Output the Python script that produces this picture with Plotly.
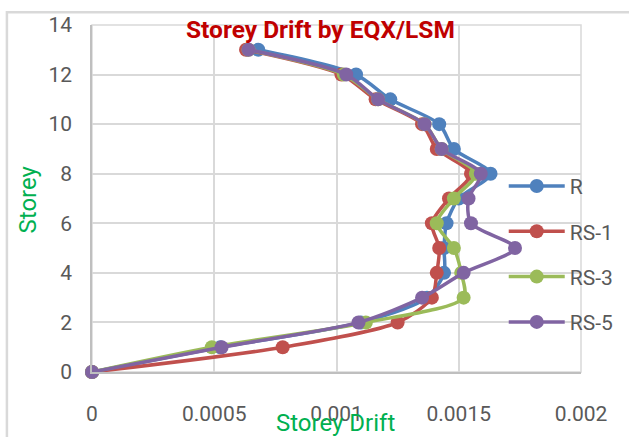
import plotly.graph_objects as go

storeys = [0, 1, 2, 3, 4, 5, 6, 7, 8, 9, 10, 11, 12, 13]
drift_R = [0, 0.000525, 0.00110, 0.00137, 0.00144, 0.00144, 0.00145, 0.00150, 0.00163, 0.00148, 0.00142, 0.00122, 0.00108, 0.00068]
drift_RS1 = [0, 0.00078, 0.00125, 0.00139, 0.00141, 0.00142, 0.00139, 0.00146, 0.00155, 0.00141, 0.00135, 0.00116, 0.00102, 0.00063]
drift_RS3 = [0, 0.00049, 0.00112, 0.00152, 0.00151, 0.00148, 0.00141, 0.00148, 0.00157, 0.00143, 0.00136, 0.00117, 0.00103, 0.00064]
drift_RS5 = [0, 0.00053, 0.00109, 0.00135, 0.00152, 0.00173, 0.00155, 0.00154, 0.00159, 0.00143, 0.00136, 0.00117, 0.00104, 0.00064]

series_names = ["R", "RS-1", "RS-3", "RS-5"]
series_colors = ["#4F81BD", "#C0504D", "#9BBB59", "#8064A2"]
x_tick_vals = [0, 0.0005, 0.001, 0.0015, 0.002]
x_tick_text = ["0", "0.0005", "0.001", "0.0015", "0.002"]
y_tick_vals = [0, 2, 4, 6, 8, 10, 12, 14]

FONT = "Roboto, 'Liberation Sans', sans-serif"

fig = go.Figure()
for name, color, vals in zip(series_names, series_colors, [drift_R, drift_RS1, drift_RS3, drift_RS5]):
    fig.add_trace(go.Scatter(
        x=vals, y=storeys, name=name, mode="lines+markers",
        line=dict(color=color, width=3.5, shape="spline", smoothing=0.8),
        marker=dict(color=color, size=14),
        legendgroup=name, cliponaxis=False,
    ))

fig.update_layout(
    width=629, height=437,
    margin=dict(l=92, r=48, t=25, b=65, autoexpand=False),
    paper_bgcolor="white", plot_bgcolor="white",
    font=dict(family=FONT, color="#595959", size=21),
    showlegend=True,
    legend=dict(x=0.842, y=0.339, xanchor="left", yanchor="middle",
                bgcolor="rgba(0,0,0,0)", font=dict(size=21, color="#595959"),
                tracegroupgap=15, itemwidth=56, traceorder="grouped"),
    xaxis=dict(range=[0, 0.002], tickvals=x_tick_vals, ticktext=x_tick_text,
               showgrid=True, gridcolor="#D9D9D9", gridwidth=1.5,
               showline=True, linecolor="#BFBFBF", linewidth=1.5, mirror=False,
               zeroline=False, ticks="", ticklabelstandoff=22, automargin=False,
               tickfont=dict(size=21, color="#595959")),
    yaxis=dict(range=[0, 14], tickvals=y_tick_vals,
               showgrid=True, gridcolor="#D9D9D9", gridwidth=1.5,
               showline=True, linecolor="#BFBFBF", linewidth=1.5,
               zeroline=False, ticks="", ticklabelstandoff=14, automargin=False,
               tickfont=dict(size=21, color="#595959")),
    shapes=[
        dict(type="rect", xref="paper", yref="paper", x0=0, x1=1, y0=0, y1=1,
             line=dict(color="#D9D9D9", width=1.5), fillcolor="rgba(0,0,0,0)", layer="below"),
        dict(type="rect", xref="paper", yref="paper", x0=-0.174, x1=1.2, y0=-0.3, y1=1.037,
             line=dict(color="#D9D9D9", width=2.5), fillcolor="rgba(0,0,0,0)", layer="below"),
    ],
    annotations=[
        dict(text="<b>Storey Drift by EQX/LSM</b>", xref="paper", yref="paper",
             x=0.467, y=0.986, xanchor="center", yanchor="middle", showarrow=False,
             font=dict(size=24.5, color="#C00000", family=FONT)),
        dict(text="Storey", xref="paper", yref="paper", x=-0.131, y=0.497,
             xanchor="center", yanchor="middle", textangle=-90, showarrow=False,
             font=dict(size=24, color="#00B050", family=FONT)),
        dict(text="Storey Drift", xref="paper", yref="paper", x=0.498, y=-0.147,
             xanchor="center", yanchor="middle", showarrow=False,
             font=dict(size=24, color="#00B050", family=FONT)),
    ],
)

fig.write_html("out.html", config={"displayModeBar": False},
               post_script="document.body.style.margin='0';document.body.style.overflow='hidden';")
